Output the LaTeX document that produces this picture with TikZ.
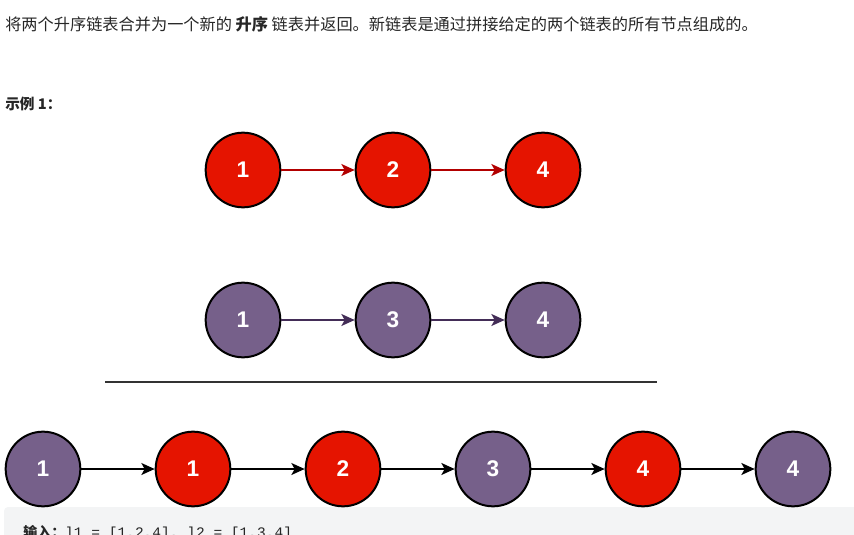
\documentclass[tikz,border=0pt]{standalone}
\usepackage{fontspec}
\setmainfont{Liberation Sans}
\newfontfamily\cjk{Noto Sans CJK SC}
\newfontfamily\monof{Liberation Mono}
\usetikzlibrary{arrows.meta}
\definecolor{nred}{HTML}{E51400}
\definecolor{npur}{HTML}{76608A}
\definecolor{ared}{HTML}{B20000}
\definecolor{apur}{HTML}{432D57}
\definecolor{codebg}{HTML}{F3F4F5}
\definecolor{txt}{HTML}{262626}
\begin{document}
\begin{tikzpicture}[x=0.75pt,y=-0.75pt,
  lnode/.style={circle,draw=black,line width=1.5pt,minimum size=56pt,inner sep=0pt,
    font=\fontsize{17}{20}\selectfont\bfseries,text=white},
  rednode/.style={lnode,fill=nred},
  purnode/.style={lnode,fill=npur},
  link/.style={line width=1.2pt,-{Stealth[length=10pt,width=9pt,inset=2.5pt]}},
  redlink/.style={link,draw=ared,fill=ared},
  purlink/.style={link,draw=apur,fill=apur},
  blklink/.style={link,draw=black,fill=black},
  para/.style={inner sep=0pt,text=txt,anchor=west}]
\useasboundingbox (0,0) rectangle (854,535);
\begin{scope}
\clip (0,0) rectangle (854,535);
\fill[codebg,rounded corners=3pt] (4,507) rectangle (860,560);
\node[inner sep=0pt,anchor=base west,text=txt] (inp) at (23,537)
  {{\cjk\bfseries\fontsize{10.5}{12}\selectfont 输入：}{\monof\fontsize{10.9}{12}\selectfont l1 = [1,2,4], l2 = [1,3,4]}};
\end{scope}
\node[para,font=\cjk\fontsize{12.15}{14}\selectfont] (desc) at (5,24)
  {将两个升序链表合并为一个新的 {\bfseries 升序} 链表并返回。新链表是通过拼接给定的两个链表的所有节点组成的。};
\node[para,font=\cjk\bfseries\fontsize{11}{13}\selectfont] (ex) at (5,103.5) {示例 1：};
% row 1
\node[rednode] (a1) at (243,170) {1};
\node[rednode] (a2) at (393,170) {2};
\node[rednode] (a3) at (543,170) {4};
\draw[redlink] (a1) -- (a2);
\draw[redlink] (a2) -- (a3);
% row 2
\node[purnode] (b1) at (243,320) {1};
\node[purnode] (b2) at (393,320) {3};
\node[purnode] (b3) at (543,320) {4};
\draw[purlink] (b1) -- (b2);
\draw[purlink] (b2) -- (b3);
% separator
\coordinate (sl) at (105,382);
\coordinate (sr) at (657,382);
\draw[line width=1.7pt,black!80] (sl) -- (sr);
% row 3
\node[purnode] (c1) at (43,469) {1};
\node[rednode] (c2) at (193,469) {1};
\node[rednode] (c3) at (343,469) {2};
\node[purnode] (c4) at (493,469) {3};
\node[rednode] (c5) at (643,469) {4};
\node[purnode] (c6) at (793,469) {4};
\draw[blklink] (c1) -- (c2);
\draw[blklink] (c2) -- (c3);
\draw[blklink] (c3) -- (c4);
\draw[blklink] (c4) -- (c5);
\draw[blklink] (c5) -- (c6);
\end{tikzpicture}
\end{document}
